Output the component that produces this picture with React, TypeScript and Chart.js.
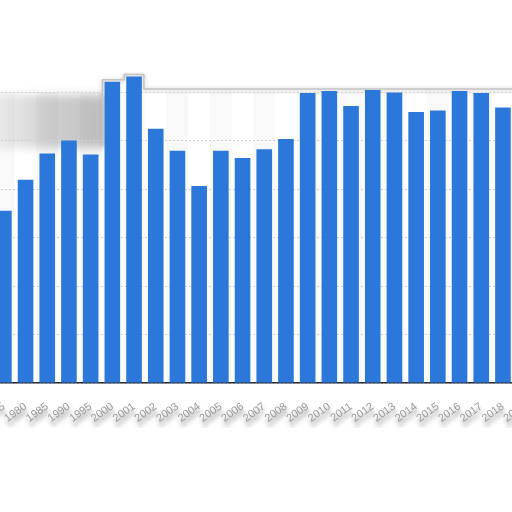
import React, { useEffect, useRef } from 'react';
import { Chart } from 'chart.js/auto';

const years = [
  '1975', '1980', '1985', '1990', '1995', '2000', '2001', '2002', '2003', '2004',
  '2005', '2006', '2007', '2008', '2009', '2010', '2011', '2012', '2013', '2014',
  '2015', '2016', '2017', '2018', '2019',
];
const values = [
  35.5, 41.9, 47.3, 50.0, 47.1, 62.1, 63.2, 52.4, 47.9, 40.6,
  47.9, 46.4, 48.2, 50.3, 59.8, 60.2, 57.1, 60.4, 59.9, 55.9,
  56.2, 60.2, 59.8, 56.8, 58.0,
];
const yMax = 60;
const yStep = 10;

// faint column bands, the blurred shadow box and the grey top outline
const decoPlugin = {
  id: 'deco',
  beforeDraw(chart: any) {
    const { ctx, chartArea, scales } = chart;
    const x = scales.x;
    const y = scales.y;
    const half = (x.getPixelForValue(1) - x.getPixelForValue(0)) / 2;
    ctx.save();
    ctx.fillStyle = '#f9f9f9';
    years.forEach((_, i) => {
      if (i % 2 === 0) {
        const cx = x.getPixelForValue(i);
        ctx.fillRect(cx - half, chartArea.top, half * 2, chartArea.bottom - chartArea.top);
      }
    });
    ctx.restore();

    const bars = chart.getDatasetMeta(0).data;
    const b5 = bars[5];
    const b6 = bars[6];
    const l5 = b5.x - b5.width / 2;
    const l6 = b6.x - b6.width / 2;
    const r6 = b6.x + b6.width / 2;
    const top = chartArea.top;

    // blurred grey box left of the 2000 bar
    ctx.save();
    ctx.filter = 'blur(5px)';
    const g = ctx.createLinearGradient(chartArea.left, 0, l5, 0);
    g.addColorStop(0, 'rgba(0,0,0,0.05)');
    g.addColorStop(0.55, 'rgba(0,0,0,0.2)');
    g.addColorStop(1, 'rgba(0,0,0,0.24)');
    ctx.fillStyle = g;
    const bottom = y.getPixelForValue(48.5);
    ctx.fillRect(chartArea.left - 30, top + 3, l5 + 1 - (chartArea.left - 30), bottom - top - 3);
    ctx.restore();

    // grey outline following the plot top and the two tall bars
    ctx.save();
    ctx.strokeStyle = '#c4c4c4';
    ctx.lineWidth = 1.5;
    ctx.lineJoin = 'round';
    ctx.shadowColor = 'rgba(0,0,0,0.3)';
    ctx.shadowBlur = 4;
    ctx.shadowOffsetY = 1;
    ctx.beginPath();
    ctx.moveTo(l5 - 2, y.getPixelForValue(49));
    ctx.lineTo(l5 - 2, b5.y - 2);
    ctx.lineTo(l6 - 2, b5.y - 2);
    ctx.lineTo(l6 - 2, b6.y - 2);
    ctx.lineTo(r6 + 2, b6.y - 2);
    ctx.lineTo(r6 + 2, top - 3);
    ctx.lineTo(chartArea.right + 10, top - 3);
    ctx.stroke();
    ctx.restore();
  },
  afterDatasetsDraw(chart: any) {
    // shadow for the tick labels drawn after the bars
    const ctx = chart.ctx;
    ctx.save();
    ctx.shadowColor = 'rgba(0,0,0,0.5)';
    ctx.shadowBlur = 4;
    ctx.shadowOffsetX = 1;
    ctx.shadowOffsetY = 5;
  },
  afterDraw(chart: any) {
    chart.ctx.restore();
  },
};

export default function App() {
  const canvasRef = useRef<HTMLCanvasElement>(null);

  useEffect(() => {
    if (!canvasRef.current) return;
    const chart = new Chart(canvasRef.current, {
      type: 'bar',
      data: {
        labels: years,
        datasets: [
          {
            data: values,
            backgroundColor: '#2b78da',
            borderWidth: 0,
            categoryPercentage: 1,
            barPercentage: 0.72,
            clip: false as any,
          },
        ],
      },
      options: {
        animation: false,
        responsive: true,
        maintainAspectRatio: false,
        layout: { padding: { top: 20, left: 0, right: 0, bottom: 0 } },
        plugins: { legend: { display: false }, tooltip: { enabled: false } },
        scales: {
          x: {
            grid: { display: false },
            border: { display: true, color: '#2a2d3a', width: 1.5 },
            ticks: {
              z: 1,
              color: '#9a9a9a',
              minRotation: 36,
              maxRotation: 36,
              autoSkip: false,
              padding: 9,
              font: { family: 'Liberation Sans', size: 11 },
            },
            afterFit: (s: any) => {
              s.paddingLeft = 0;
              s.paddingRight = 0;
              s.height = 45;
            },
          },
          y: {
            min: 0,
            max: yMax,
            ticks: { display: false, stepSize: yStep },
            border: { display: false, dash: [2, 2] },
            grid: { color: '#d2d2d2', drawTicks: false, lineWidth: 1 },
            afterFit: (s: any) => {
              s.width = 0;
              s.paddingTop = 0;
              s.paddingBottom = 0;
            },
          },
        },
      },
      plugins: [decoPlugin],
    });
    return () => chart.destroy();
  }, []);

  return (
    <div style={{ position: 'fixed', inset: 0, overflow: 'hidden', background: '#fff' }}>
      <div style={{ position: 'absolute', left: -7.5, top: 71.7, width: 542.5, height: 356 }}>
        <canvas ref={canvasRef}></canvas>
      </div>
    </div>
  );
}
